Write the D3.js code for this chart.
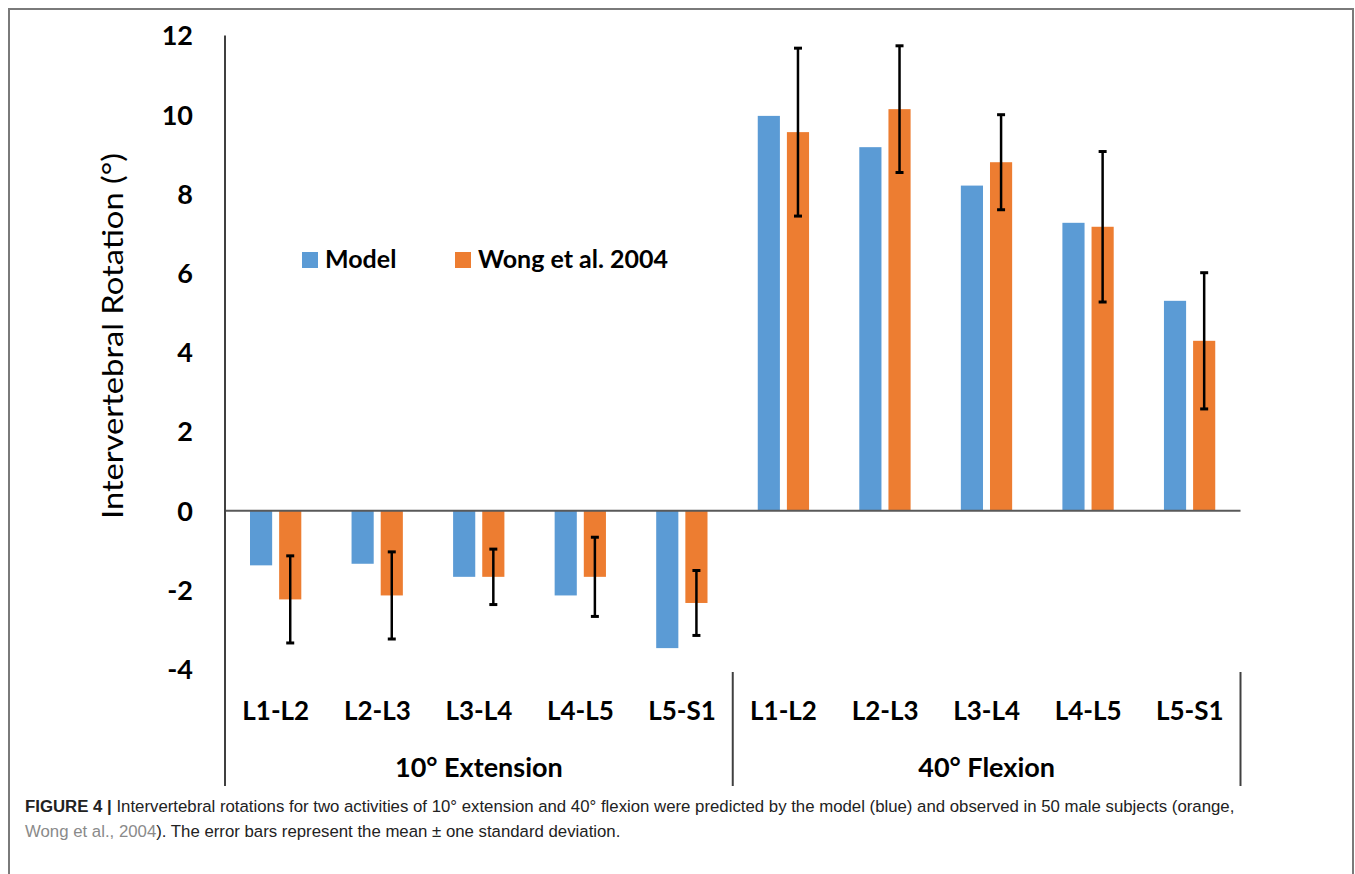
<!DOCTYPE html>
<html>
<head>
<meta charset="utf-8">
<script src="https://cdn.jsdelivr.net/npm/d3@7"></script>
<style>
  html, body { margin: 0; padding: 0; background: #fff; }
  svg { display: block; }
</style>
</head>
<body>
<svg id="chart" width="1355" height="874"></svg>
<script>
// Spinal levels, activities and the two series
const segments = ["L1-L2", "L2-L3", "L3-L4", "L4-L5", "L5-S1"];
const activities = ["10° Extension", "40° Flexion"];
const seriesNames = ["Model", "Wong et al. 2004"];
const seriesColors = ["#5B9BD5", "#ED7D31"];

// Intervertebral rotation (degrees), per activity, per level
const modelExtension = [-1.38, -1.34, -1.67, -2.14, -3.47];
const wongExtension  = [-2.24, -2.14, -1.67, -1.67, -2.33];
const wongExtensionSD = [1.10, 1.10, 0.70, 1.00, 0.82];

const modelFlexion = [9.97, 9.18, 8.21, 7.27, 5.30];
const wongFlexion  = [9.56, 10.14, 8.80, 7.17, 4.29];
const wongFlexionSD = [2.12, 1.60, 1.20, 1.90, 1.72];

const yTicks = [-4, -2, 0, 2, 4, 6, 8, 10, 12];

// Flatten into rows
const rows = [];
activities.forEach((act, ai) => {
  const m = ai === 0 ? modelExtension : modelFlexion;
  const w = ai === 0 ? wongExtension : wongFlexion;
  const s = ai === 0 ? wongExtensionSD : wongFlexionSD;
  segments.forEach((seg, si) => {
    rows.push({ key: act + "|" + seg, activity: act, segment: seg,
                values: [m[si], w[si]], sd: s[si] });
  });
});

const svg = d3.select("#chart");

// Outer frame
svg.append("rect")
  .attr("x", 9).attr("y", 9).attr("width", 1344).attr("height", 880)
  .attr("fill", "none").attr("stroke", "#7a7a7a").attr("stroke-width", 2);

const left = 225, right = 1240.5;
const x0 = d3.scaleBand().domain(rows.map(d => d.key)).range([left, right]).padding(0);
const x1 = d3.scaleBand().domain(seriesNames).range([25, 76.3]).paddingInner(0.24);
const y = d3.scaleLinear().domain([-4, 12]).range([669.1, 35.5]);

const font = "Lato, 'Open Sans', sans-serif";

// Bars
const g = svg.append("g");
const cat = g.selectAll("g.cat").data(rows).join("g")
  .attr("class", "cat")
  .attr("transform", d => `translate(${x0(d.key)},0)`);

cat.selectAll("rect").data(d => d.values.map((v, i) => ({ v, name: seriesNames[i], i })))
  .join("rect")
  .attr("x", d => x1(d.name))
  .attr("width", x1.bandwidth())
  .attr("y", d => y(Math.max(0, d.v)))
  .attr("height", d => Math.abs(y(d.v) - y(0)))
  .attr("fill", d => seriesColors[d.i]);

// Zero line
svg.append("line")
  .attr("x1", left).attr("x2", right)
  .attr("y1", y(0)).attr("y2", y(0))
  .attr("stroke", "#595959").attr("stroke-width", 2);

// Error bars on the observed series
const cap = 4;
const eb = cat.append("g").attr("stroke", "#000");
eb.append("line")
  .attr("x1", x1(seriesNames[1]) + x1.bandwidth() / 2)
  .attr("x2", x1(seriesNames[1]) + x1.bandwidth() / 2)
  .attr("y1", d => y(d.values[1] + d.sd))
  .attr("y2", d => y(d.values[1] - d.sd))
  .attr("stroke-width", 2.5);
[1, -1].forEach(sign => {
  eb.append("line")
    .attr("x1", x1(seriesNames[1]) + x1.bandwidth() / 2 - cap)
    .attr("x2", x1(seriesNames[1]) + x1.bandwidth() / 2 + cap)
    .attr("y1", d => y(d.values[1] + sign * d.sd))
    .attr("y2", d => y(d.values[1] + sign * d.sd))
    .attr("stroke-width", 3);
});

// Y axis
const yAxis = svg.append("g")
  .attr("transform", `translate(${left},0)`)
  .call(d3.axisLeft(y).tickValues(yTicks).tickSize(0).tickPadding(32).tickFormat(d => String(d)));
yAxis.select(".domain").remove();
yAxis.selectAll("text")
  .attr("font-family", font).attr("font-weight", 700).attr("font-size", 27)
  .attr("fill", "#000").attr("dy", "0.35em");

// Vertical axis line extends down through the category area
svg.append("line")
  .attr("x1", left).attr("x2", left).attr("y1", y(12)).attr("y2", 786)
  .attr("stroke", "#404040").attr("stroke-width", 2);

// Group dividers
const dividers = [x0(rows[5].key), right];
svg.selectAll("line.div").data(dividers).join("line")
  .attr("class", "div")
  .attr("x1", d => d).attr("x2", d => d)
  .attr("y1", 672).attr("y2", 786)
  .attr("stroke", "#404040").attr("stroke-width", 2);

// Segment labels
svg.selectAll("text.seg").data(rows).join("text")
  .attr("class", "seg")
  .attr("x", d => x0(d.key) + x0.bandwidth() / 2)
  .attr("y", 720)
  .attr("text-anchor", "middle")
  .attr("font-family", font).attr("font-weight", 700).attr("font-size", 26)
  .text(d => d.segment);

// Activity labels
svg.selectAll("text.act").data(activities).join("text")
  .attr("class", "act")
  .attr("x", (d, i) => {
    const first = x0(d + "|" + segments[0]);
    return first + x0.bandwidth() * segments.length / 2;
  })
  .attr("y", 777)
  .attr("text-anchor", "middle")
  .attr("font-family", font).attr("font-weight", 700).attr("font-size", 27)
  .text(d => d);

// Y axis title
svg.append("text")
  .attr("transform", `translate(123,336) rotate(-90)`)
  .attr("text-anchor", "middle")
  .attr("font-family", font).attr("font-size", 28)
  .attr("textLength", 366).attr("lengthAdjust", "spacingAndGlyphs")
  .text("Intervertebral Rotation (°)");

// Legend
const legendX = [302, 455];
const leg = svg.selectAll("g.leg").data(seriesNames).join("g")
  .attr("class", "leg")
  .attr("transform", (d, i) => `translate(${legendX[i]},252)`);
leg.append("rect").attr("width", 16).attr("height", 16)
  .attr("fill", (d, i) => seriesColors[i]);
leg.append("text").attr("x", 23).attr("y", 16)
  .attr("font-family", font).attr("font-weight", 700).attr("font-size", 25)
  .text(d => d);

// Caption
const capFont = "'Liberation Sans', Arial, sans-serif";
const c1 = svg.append("text").attr("x", 25).attr("y", 812)
  .attr("font-family", capFont).attr("font-size", 16.8).attr("fill", "#222");
c1.append("tspan").attr("font-weight", 700).text("FIGURE 4 | ");
c1.append("tspan").text("Intervertebral rotations for two activities of 10° extension and 40° flexion were predicted by the model (blue) and observed in 50 male subjects (orange,");
const c2 = svg.append("text").attr("x", 25).attr("y", 837)
  .attr("font-family", capFont).attr("font-size", 16.8).attr("fill", "#222");
c2.append("tspan").attr("fill", "#8a8a8a").text("Wong et al., 2004");
c2.append("tspan").text("). The error bars represent the mean ± one standard deviation.");
</script>
</body>
</html>
